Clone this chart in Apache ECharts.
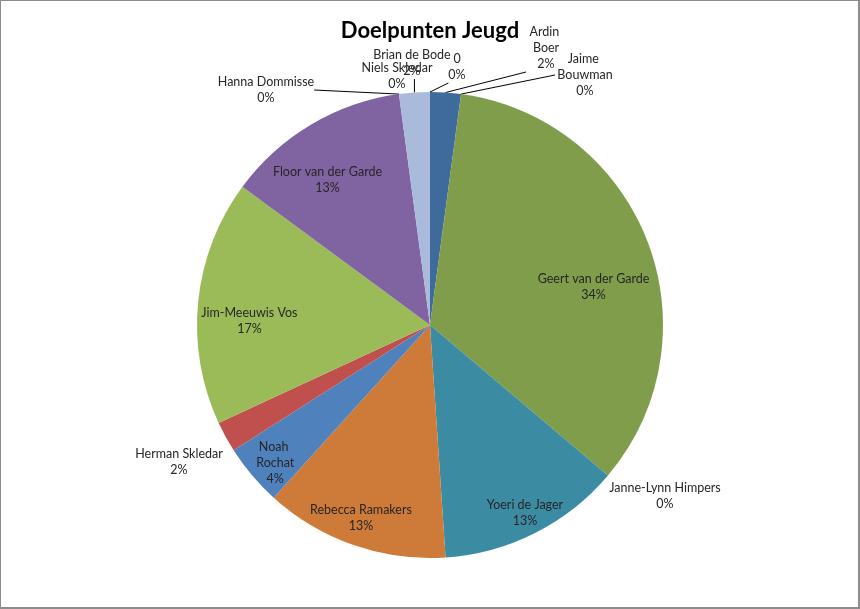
<!DOCTYPE html>
<html>
<head>
<meta charset="utf-8">
<script src="https://cdn.jsdelivr.net/npm/echarts@6/dist/echarts.min.js"></script>
<style>
html, body { margin: 0; padding: 0; background: #fff; }
#chart { width: 860px; height: 609px; }
#frame {
    position: absolute; left: 0; top: 0; width: 860px; height: 609px;
    box-sizing: border-box; border: 1px solid #8c8c8c;
    border-right-width: 2px; border-bottom-width: 2px; pointer-events: none;
}
</style>
</head>
<body>
<div id="chart"></div>
<div id="frame"></div>
<script>
// goals per player, clockwise from 12 o'clock
var players = ['0', 'Ardin Boer', 'Jaime Bouwman', 'Geert van der Garde', 'Janne-Lynn Himpers',
    'Yoeri de Jager', 'Rebecca Ramakers', 'Noah Rochat', 'Herman Skledar', 'Jim-Meeuwis Vos',
    'Floor van der Garde', 'Hanna Dommisse', 'Niels Skledar', 'Brian de Bode'];
var goals = [0, 1, 0, 16, 0, 6, 6, 2, 1, 8, 6, 0, 0, 1];

var sliceColors = ['#4F81BD', '#3E6B9C', '#B65B58', '#7F9D4B', '#6E5690', '#3B8BA3', '#CE7B39',
    '#4F81BD', '#C0504D', '#9BBB59', '#8064A2', '#4BACC6', '#F79646', '#A9BADA'];

// label placement (Excel "best fit" look)
var outsideSpots = {
    '0': [457, 67],
    'Ardin Boer': [546, 48],
    'Jaime Bouwman': [585, 75],
    'Janne-Lynn Himpers': [665, 496],
    'Herman Skledar': [179, 462],
    'Hanna Dommisse': [266, 90],
    'Niels Skledar': [397, 76],
    'Brian de Bode': [412, 63]
};
var noLeader = ['Janne-Lynn Himpers', 'Herman Skledar', 'Niels Skledar'];
var wrapWidth = { 'Ardin Boer': 40, 'Jaime Bouwman': 60, 'Noah Rochat': 50 };
var insideRings = [
    { names: ['Yoeri de Jager', 'Rebecca Ramakers', 'Noah Rochat'], inner: 182 },
    { names: ['Jim-Meeuwis Vos', 'Floor van der Garde'], inner: 128 },
    { names: ['Geert van der Garde'], inner: 103 }
];
var labelNudge = {
    'Geert van der Garde': [4, 23],
    'Jim-Meeuwis Vos': [2, 14],
    'Floor van der Garde': [-9, 13],
    'Rebecca Ramakers': [0, -6],
    'Noah Rochat': [6, 2]
};

var CENTER = [430, 325], R = 233;
var textStyle = {
    formatter: '{b}\n{d}%',
    fontFamily: 'Lato',
    fontSize: 12.5,
    lineHeight: 16,
    color: '#262626',
    align: 'center'
};

// leader runs from the slice edge to the side of the label facing it
function leaderEnd(start, box) {
    var x = Math.min(Math.max(start[0], box.x), box.x + box.width);
    var y = Math.min(Math.max(start[1], box.y), box.y + box.height);
    if (start[1] > box.y && start[1] < box.y + box.height) y = box.y + box.height / 2;
    return [x, y];
}

var mainSeries = {
    type: 'pie',
    center: CENTER,
    radius: R,
    startAngle: 90,
    clockwise: true,
    percentPrecision: 0,
    avoidLabelOverlap: false,
    emphasis: { disabled: true },
    itemStyle: { borderWidth: 0 },
    label: Object.assign({ position: 'outside' }, textStyle),
    labelLine: { length: 10, length2: 0, lineStyle: { color: '#000', width: 1 } },
    labelLayout: function (p) {
        var s = outsideSpots[players[p.dataIndex]];
        if (!s) return {};
        var w = p.labelRect.width, h = p.labelRect.height;
        var out = { x: s[0], y: s[1], align: 'center', verticalAlign: 'middle' };
        if (p.labelLinePoints) {
            var start = p.labelLinePoints[0];
            var end = leaderEnd(start, { x: s[0] - w / 2, y: s[1] - h / 2, width: w, height: h });
            out.labelLinePoints = [start, end, end];
        }
        return out;
    },
    data: players.map(function (name, i) {
        return {
            name: name,
            value: goals[i],
            itemStyle: { color: sliceColors[i] },
            label: { show: outsideSpots.hasOwnProperty(name), width: wrapWidth[name], overflow: 'break' },
            labelLine: { show: noLeader.indexOf(name) < 0 }
        };
    })
};

var ringSeries = insideRings.map(function (ring) {
    return {
        type: 'pie',
        center: CENTER,
        radius: [ring.inner, R],
        startAngle: 90,
        clockwise: true,
        percentPrecision: 0,
        silent: true,
        emphasis: { disabled: true },
        itemStyle: { color: 'transparent', borderWidth: 0 },
        label: Object.assign({ position: 'inside' }, textStyle),
        labelLine: { show: false },
        labelLayout: function (p) {
            var n = labelNudge[players[p.dataIndex]];
            return n ? { dx: n[0], dy: n[1] } : {};
        },
        data: players.map(function (name, i) {
            return {
                name: name,
                value: goals[i],
                label: { show: ring.names.indexOf(name) >= 0, width: wrapWidth[name], overflow: 'break' }
            };
        })
    };
});

var chart = echarts.init(document.getElementById('chart'));
chart.setOption({
    animation: false,
    backgroundColor: '#fff',
    title: {
        text: 'Doelpunten Jeugd',
        left: 'center',
        top: 15,
        textStyle: { fontFamily: 'Lato', fontWeight: 'bold', fontSize: 22, color: '#000' }
    },
    series: [mainSeries].concat(ringSeries)
});
</script>
</body>
</html>
